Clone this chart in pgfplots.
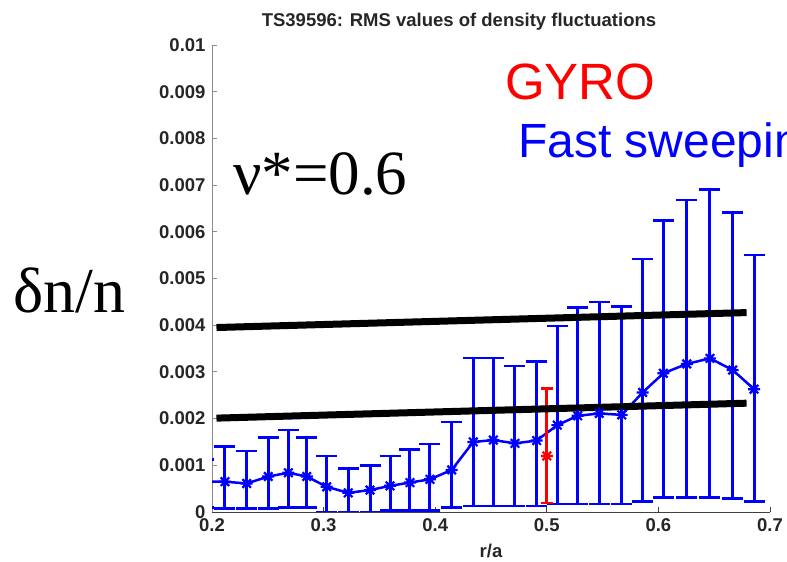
\documentclass[border=0pt]{standalone}
\usepackage{pgfplots}
\usepackage{pgfplotstable}
\pgfplotsset{compat=1.18}
\usepackage{fontspec}
\setmainfont{Liberation Sans}
\newfontfamily\timesf{Liberation Serif}
\definecolor{mblue}{RGB}{0,0,255}
\definecolor{mred}{RGB}{255,0,0}
\pgfdeclareplotmark{mstar}{%
 \pgfpathmoveto{\pgfqpoint{-\pgfplotmarksize}{0pt}}\pgfpathlineto{\pgfqpoint{\pgfplotmarksize}{0pt}}%
 \pgfpathmoveto{\pgfqpoint{0pt}{-\pgfplotmarksize}}\pgfpathlineto{\pgfqpoint{0pt}{\pgfplotmarksize}}%
 \pgfpathmoveto{\pgfqpoint{-.707\pgfplotmarksize}{-.707\pgfplotmarksize}}\pgfpathlineto{\pgfqpoint{.707\pgfplotmarksize}{.707\pgfplotmarksize}}%
 \pgfpathmoveto{\pgfqpoint{-.707\pgfplotmarksize}{.707\pgfplotmarksize}}\pgfpathlineto{\pgfqpoint{.707\pgfplotmarksize}{-.707\pgfplotmarksize}}%
 \pgfusepathqstroke}
\pgfplotstableread{
x y hi lo
0.1920 0.00065 0.00113 0.00010
0.2116 0.00065 0.00140 0.00008
0.2311 0.00061 0.00131 0.00008
0.2504 0.00076 0.00160 0.00008
0.2684 0.00084 0.00176 0.00010
0.2849 0.00076 0.00160 0.00010
0.3028 0.00054 0.00120 0.00000
0.3221 0.00041 0.00093 0.00000
0.3416 0.00047 0.00099 0.00000
0.3595 0.00056 0.00120 0.00003
0.3774 0.00063 0.00134 0.00003
0.3953 0.00070 0.00146 0.00003
0.4148 0.00090 0.00193 0.00010
0.4341 0.00150 0.00330 0.00013
0.4521 0.00154 0.00330 0.00013
0.4715 0.00147 0.00313 0.00013
0.4909 0.00153 0.00322 0.00013
0.5094 0.00186 0.00398 0.00017
0.5277 0.00206 0.00438 0.00017
0.5470 0.00211 0.00450 0.00017
0.5671 0.00208 0.00440 0.00017
0.5859 0.00256 0.00542 0.00022
0.6044 0.00297 0.00624 0.00031
0.6254 0.00317 0.00668 0.00031
0.6462 0.00329 0.00691 0.00031
0.6666 0.00304 0.00641 0.00029
0.6857 0.00263 0.00550 0.00022
}\fastsweep
\pgfplotstableread{
x y hi lo
0.5 0.00120 0.00265 0.00019
}\gyro
\begin{document}
\begin{tikzpicture}
\useasboundingbox (0,0) rectangle (787bp,562bp);
\begin{axis}[
  scale only axis,
  width=558bp, height=467bp,
  at={(212bp,50bp)}, anchor=south west,
  xmin=0.2, xmax=0.7, ymin=0, ymax=0.01,
  axis x line*=bottom, axis y line*=left,
  x axis line style={black!75, line width=0.8bp},
  y axis line style={black!45, line width=0.8bp},
  tick align=inside,
  major tick length=5bp,
  xtick={0.2,0.3,0.4,0.5,0.6,0.7},
  xticklabels={0.2,0.3,0.4,0.5,0.6,0.7},
  ytick={0,0.001,0.002,0.003,0.004,0.005,0.006,0.007,0.008,0.009,0.01},
  yticklabels={0,0.001,0.002,0.003,0.004,0.005,0.006,0.007,0.008,0.009,0.01},
  scaled y ticks=false, scaled x ticks=false,
  ticklabel style={font=\bfseries\fontsize{18.5bp}{20bp}\selectfont, text=black!85},
  xticklabel style={yshift=-3bp},
  yticklabel style={xshift=-3bp},
  x tick style={black!75, line width=0.8bp},
  y tick style={black!45, line width=0.8bp},
  clip=true,
]
\addplot[mblue, line width=2.5bp, mark=mstar, mark size=6bp,
  mark options={line width=2.2bp},
  error bars/.cd, y dir=both, y explicit,
  error bar style={line width=3bp, mblue},
  error mark options={rotate=90, line width=2.6bp, mblue, mark size=10.5bp}]
  table[x=x, y=y, y error plus expr=\thisrow{hi}-\thisrow{y}, y error minus expr=\thisrow{y}-\thisrow{lo}] {\fastsweep};
\addplot[mred, line width=2.5bp, mark=mstar, mark size=6bp,
  mark options={line width=2.2bp},
  error bars/.cd, y dir=both, y explicit,
  error bar style={line width=3bp, mred},
  error mark options={rotate=90, line width=2.6bp, mred, mark size=6bp}]
  table[x=x, y=y, y error plus expr=\thisrow{hi}-\thisrow{y}, y error minus expr=\thisrow{y}-\thisrow{lo}] {\gyro};
\addplot[black, line width=7bp] coordinates {(0.204,0.00395) (0.679,0.00427)};
\addplot[black, line width=7bp] coordinates {(0.204,0.00201) (0.679,0.00233)};
\end{axis}
\node[anchor=base, inner sep=0pt, text=black!85, font=\bfseries\fontsize{18.5bp}{22bp}\selectfont] at (459bp,535bp) {TS39596: RMS values of density fluctuations};
\node[anchor=base, inner sep=0pt, text=black!85, font=\bfseries\fontsize{18.5bp}{22bp}\selectfont] at (491bp,5bp) {r/a};
\node[anchor=base west, inner sep=0pt, font=\timesf\fontsize{64bp}{70bp}\selectfont] at (13bp,249bp) {δn/n};
\node[anchor=base west, inner sep=0pt, font=\timesf\fontsize{63bp}{68bp}\selectfont] at (233bp,367bp) {ν*=0.6};
\node[anchor=base west, inner sep=0pt, text=mred, font=\fontsize{51bp}{56bp}\selectfont] at (505bp,462bp) {GYRO};
\node[anchor=base west, inner sep=0pt, text=mblue, font=\fontsize{48bp}{56bp}\selectfont] at (518bp,404bp) {Fast sweeping};
\end{tikzpicture}
\end{document}
